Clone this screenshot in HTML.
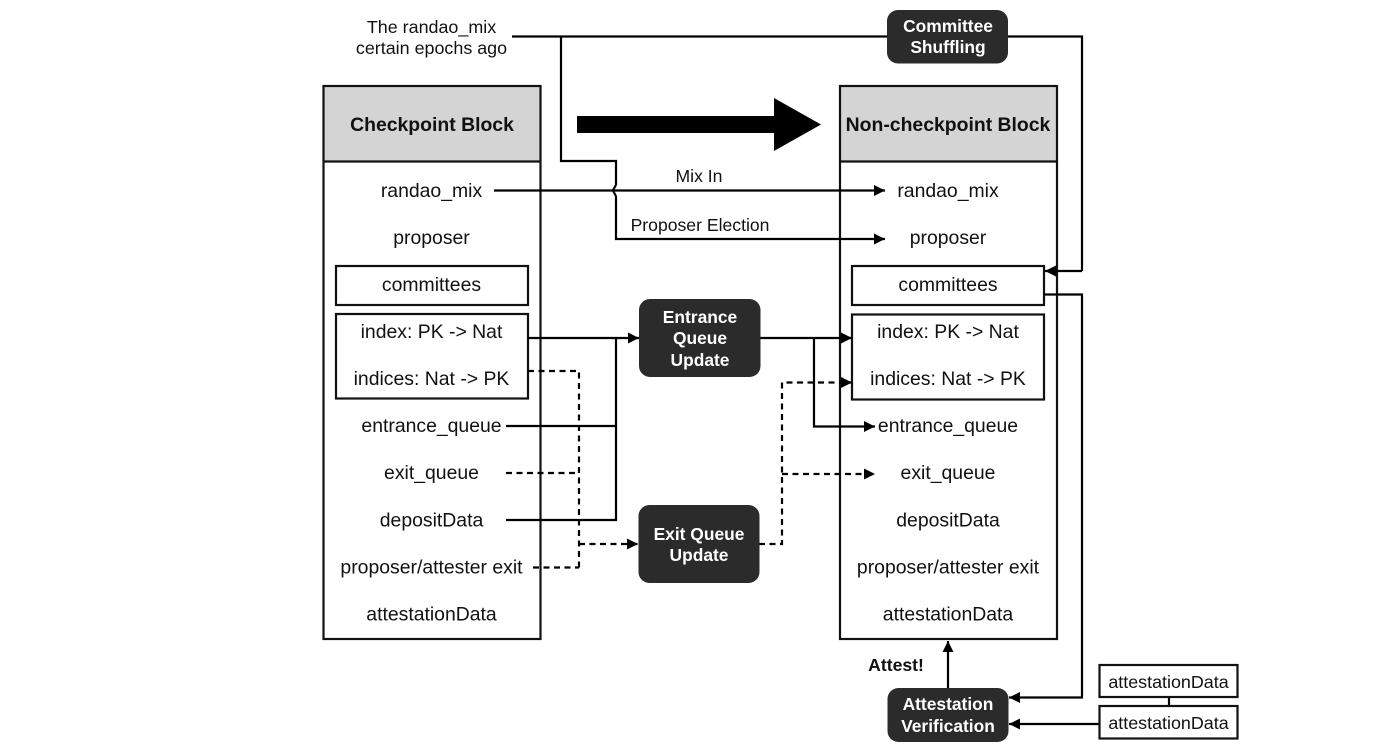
<!DOCTYPE html>
<html>
<head>
<meta charset="utf-8">
<style>
html,body{margin:0;padding:0;background:#fff;width:1400px;height:749px;overflow:hidden}
svg{display:block;filter:blur(0.35px)}
text{font-family:"Liberation Sans",sans-serif;font-size:19.4px;text-anchor:middle;fill:#111}
.b{font-weight:bold}
.w{fill:#fff;font-size:17.4px;font-weight:bold}
.s{font-size:17.6px}
.t{font-size:17.9px}
.l{fill:none;stroke:#000;stroke-width:2.2}
.d{fill:none;stroke:#000;stroke-width:2.2;stroke-dasharray:6 4.5}
.r{fill:#2b2b2b}
.x{fill:none;stroke:#111;stroke-width:2.2}
</style>
</head>
<body>
<svg width="1400" height="749" viewBox="0 0 1400 749" xmlns="http://www.w3.org/2000/svg">
<defs>
<marker id="a" markerUnits="userSpaceOnUse" markerWidth="12" markerHeight="12" refX="11" refY="6" orient="auto"><path d="M0 .5L11 6L0 11.5z" fill="#000"/></marker>
</defs>

<!-- Blocks -->
<rect x="323.500" y="86" width="217" height="76" fill="#d4d4d4"/>
<rect x="840" y="86" width="217" height="76" fill="#d4d4d4"/>
<rect class="x" x="323.500" y="86" width="217" height="553"/>
<rect class="x" x="840" y="86" width="217" height="553"/>
<path class="x" d="M323.500 161.500H540.500M840 161.500H1057"/>
<rect class="x" x="336" y="266" width="192" height="39"/>
<rect class="x" x="336" y="314" width="192" height="84.500"/>
<rect class="x" x="852" y="266" width="192" height="39"/>
<rect class="x" x="852" y="314.500" width="192" height="85"/>

<!-- Big arrow -->
<path d="M577 116H774V98L821 124.500L774 151V133H577z" fill="#000"/>

<!-- Solid connectors -->
<path class="l" d="M512 36.500H887M1008 36.500H1082V271"/>
<path class="l" d="M1082 271H1045" marker-end="url(#a)"/>
<path class="l" d="M561 36.500V161H616V185M616 196V239H885" marker-end="url(#a)"/>
<path class="l" d="M616 185L612.800 190.500L616 196"/>
<path class="l" d="M494 190.500H885" marker-end="url(#a)"/>
<path class="l" d="M528 338H639" marker-end="url(#a)"/>
<path class="l" d="M506 426H616M506 520H616V338"/>
<path class="l" d="M756 338H852" marker-end="url(#a)"/>
<path class="l" d="M814 338V426.500H875" marker-end="url(#a)"/>
<path class="l" d="M1044 294.500H1082V697.500H1009" marker-end="url(#a)"/>
<path class="l" d="M948 688V641" marker-end="url(#a)"/>
<path class="l" d="M1099 724H1009" marker-end="url(#a)"/>
<path class="l" d="M1169 697V706"/>

<!-- Dashed connectors -->
<path class="d" d="M528 371H579V567.500"/>
<path class="d" d="M533 567.500H579"/>
<path class="d" d="M506 473H579"/>
<path class="d" d="M579 544H638" marker-end="url(#a)"/>
<path class="d" d="M759 544H782V382.500H852" marker-end="url(#a)"/>
<path class="d" d="M782 474H875" marker-end="url(#a)"/>

<!-- Dark nodes -->
<rect class="r" x="887" y="10" width="121" height="53.500" rx="11"/>
<rect class="r" x="639" y="299" width="121.500" height="78" rx="11"/>
<rect class="r" x="638.500" y="505" width="121" height="78" rx="11"/>
<rect class="r" x="887.500" y="688" width="121" height="54" rx="11"/>

<!-- Small boxes -->
<rect class="x" x="1099.500" y="665" width="138" height="32"/>
<rect class="x" x="1099.500" y="706" width="138" height="32.500"/>

<!-- Labels -->
<text class="t" x="431.500" y="33">The randao_mix</text>
<text class="t" x="431.500" y="54">certain epochs ago</text>
<text class="b" x="432" y="131">Checkpoint Block</text>
<text class="b" x="948" y="131">Non-checkpoint Block</text>

<text x="431.500" y="197">randao_mix</text>
<text x="431.500" y="244">proposer</text>
<text x="431.500" y="291">committees</text>
<text x="431.500" y="338">index: PK -&gt; Nat</text>
<text x="431.500" y="385">indices: Nat -&gt; PK</text>
<text x="431.500" y="432">entrance_queue</text>
<text x="431.500" y="479">exit_queue</text>
<text x="431.500" y="526.500">depositData</text>
<text x="431.500" y="573.500">proposer/attester exit</text>
<text x="431.500" y="620.500">attestationData</text>

<text x="948" y="197">randao_mix</text>
<text x="948" y="244">proposer</text>
<text x="948" y="291">committees</text>
<text x="948" y="338">index: PK -&gt; Nat</text>
<text x="948" y="385">indices: Nat -&gt; PK</text>
<text x="948" y="432">entrance_queue</text>
<text x="948" y="479">exit_queue</text>
<text x="948" y="526.500">depositData</text>
<text x="948" y="573.500">proposer/attester exit</text>
<text x="948" y="620.500">attestationData</text>

<text class="s" x="699" y="182">Mix In</text>
<text class="s" x="700" y="231">Proposer Election</text>
<text class="b s" x="896" y="671">Attest!</text>

<text class="w" x="948" y="32">Committee</text>
<text class="w" x="948" y="53">Shuffling</text>
<text class="w" x="700" y="323">Entrance</text>
<text class="w" x="700" y="344">Queue</text>
<text class="w" x="700" y="366">Update</text>
<text class="w" x="699" y="540">Exit Queue</text>
<text class="w" x="699" y="561">Update</text>
<text class="w" x="948" y="710">Attestation</text>
<text class="w" x="948" y="732">Verification</text>

<text class="t" x="1168.500" y="688">attestationData</text>
<text class="t" x="1168.500" y="729">attestationData</text>
</svg>
</body>
</html>
